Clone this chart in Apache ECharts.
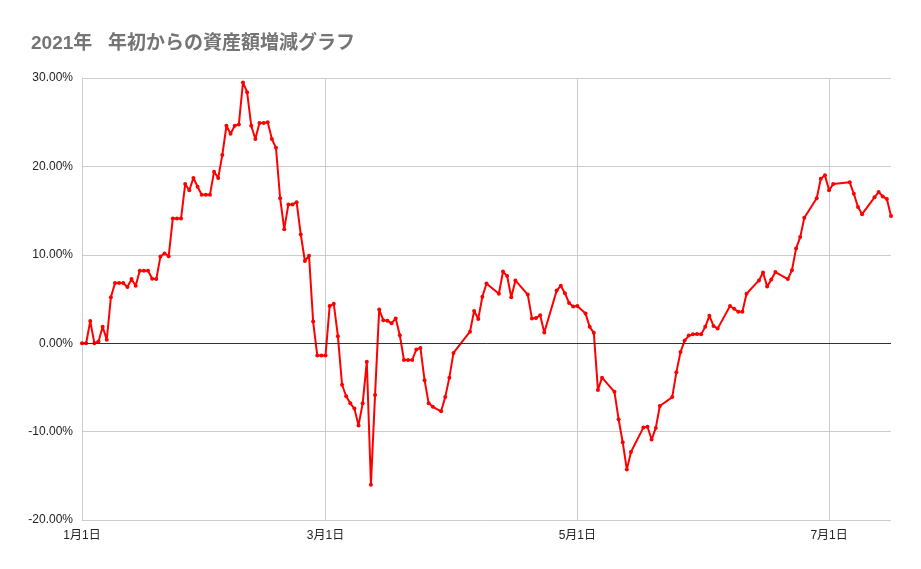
<!DOCTYPE html>
<html>
	<head>
		<meta charset="UTF-8">
		<title></title>
		<style>
			html, body { margin: 0; padding: 0; background: #fff; }
		</style>
	</head>
	<body>
		<div id="box" style="width: 921px;height: 569px;"></div>
		<script src="https://cdn.jsdelivr.net/npm/echarts@6/dist/echarts.min.js" type="text/javascript" charset="utf-8"></script>
		<script type="text/javascript">
			// 日付と増減率(%)
			const dates = [
				'2021-01-01','2021-01-02','2021-01-03','2021-01-04','2021-01-05','2021-01-06','2021-01-07','2021-01-08',
				'2021-01-09','2021-01-10','2021-01-11','2021-01-12','2021-01-13','2021-01-14','2021-01-15','2021-01-16',
				'2021-01-17','2021-01-18','2021-01-19','2021-01-20','2021-01-21','2021-01-22','2021-01-23','2021-01-24',
				'2021-01-25','2021-01-26','2021-01-27','2021-01-28','2021-01-29','2021-01-30','2021-01-31',
				'2021-02-01','2021-02-02','2021-02-03','2021-02-04','2021-02-05','2021-02-06','2021-02-07','2021-02-08',
				'2021-02-09','2021-02-10','2021-02-11','2021-02-12','2021-02-13','2021-02-14','2021-02-15','2021-02-16',
				'2021-02-17','2021-02-18','2021-02-19','2021-02-20','2021-02-21','2021-02-22','2021-02-23','2021-02-24',
				'2021-02-25','2021-02-26','2021-02-27','2021-02-28',
				'2021-03-01','2021-03-02','2021-03-03','2021-03-04','2021-03-05','2021-03-06','2021-03-07','2021-03-08',
				'2021-03-09','2021-03-10','2021-03-11','2021-03-12','2021-03-13','2021-03-14','2021-03-15','2021-03-16',
				'2021-03-17','2021-03-18','2021-03-19','2021-03-20','2021-03-21','2021-03-22','2021-03-23','2021-03-24',
				'2021-03-25','2021-03-26','2021-03-27','2021-03-29','2021-03-30','2021-03-31',
				'2021-04-01','2021-04-05','2021-04-06','2021-04-07','2021-04-08','2021-04-09','2021-04-12','2021-04-13',
				'2021-04-14','2021-04-15','2021-04-16','2021-04-19','2021-04-20','2021-04-21','2021-04-22','2021-04-23',
				'2021-04-26','2021-04-27','2021-04-28','2021-04-29','2021-04-30',
				'2021-05-01','2021-05-03','2021-05-04','2021-05-05','2021-05-06','2021-05-07','2021-05-10','2021-05-11',
				'2021-05-12','2021-05-13','2021-05-14','2021-05-17','2021-05-18','2021-05-19','2021-05-20','2021-05-21',
				'2021-05-24','2021-05-25','2021-05-26','2021-05-27','2021-05-28','2021-05-29','2021-05-30','2021-05-31',
				'2021-06-01','2021-06-02','2021-06-03','2021-06-04','2021-06-07','2021-06-08','2021-06-09','2021-06-10',
				'2021-06-11','2021-06-14','2021-06-15','2021-06-16','2021-06-17','2021-06-18','2021-06-21','2021-06-22',
				'2021-06-23','2021-06-24','2021-06-25','2021-06-28','2021-06-29','2021-06-30',
				'2021-07-01','2021-07-02','2021-07-06','2021-07-07','2021-07-08','2021-07-09','2021-07-12','2021-07-13',
				'2021-07-14','2021-07-15','2021-07-16'
			];
			const rates = [
				0, 0, 2.5, 0, 0.2, 1.85, 0.4, 5.2,
				6.8, 6.8, 6.8, 6.35, 7.25, 6.5, 8.2, 8.2,
				8.2, 7.3, 7.25, 9.8, 10.15, 9.85, 14.1, 14.1,
				14.1, 18.0, 17.3, 18.7, 17.7, 16.8, 16.8,
				16.8, 19.4, 18.7, 21.3, 24.6, 23.7, 24.6, 24.75,
				29.5, 28.4, 24.6, 23.1, 24.9, 24.9, 25.0, 23.1,
				22.1, 16.4, 12.9, 15.7, 15.7, 15.95, 12.3, 9.3,
				9.9, 2.45, -1.4, -1.4,
				-1.4, 4.2, 4.45, 0.8, -4.7, -6.0, -6.8, -7.4,
				-9.3, -6.8, -2.1, -16.0, -5.85, 3.8, 2.6, 2.55,
				2.25, 2.8, 0.9, -1.9, -1.9, -1.9, -0.7, -0.55,
				-4.2, -6.8, -7.2, -7.7, -6.1, -3.9,
				-1.1, 1.3, 3.65, 2.75, 5.25, 6.75, 5.6, 8.1,
				7.6, 5.2, 7.1, 5.5, 2.8, 2.85, 3.15, 1.2,
				5.95, 6.5, 5.65, 4.55, 4.15,
				4.2, 3.35, 1.85, 1.17, -5.3, -3.9, -5.5, -8.6,
				-11.2, -14.3, -12.3, -9.55, -9.45, -10.9, -9.6, -7.1,
				-6.1, -3.3, -1.0, 0.3, 0.87, 1.0, 1.05, 1.0,
				1.85, 3.1, 1.95, 1.65, 4.2, 3.9, 3.55, 3.55,
				5.6, 7.1, 8.0, 6.4, 7.2, 8.05, 7.25, 8.25,
				10.7, 12.0, 14.2, 16.4, 18.6, 19.0,
				17.3, 18.0, 18.2, 16.9, 15.4, 14.6, 16.5, 17.1,
				16.6, 16.3, 14.4
			];
			// 目盛り
			const xTickDates = ['2021-01-01', '2021-03-01', '2021-05-01', '2021-07-01'];
			const yTicks = { min: -20, max: 30, step: 10 };

			const fontJP = 'Arial, "Liberation Sans", "Noto Sans CJK JP", sans-serif';
			const toTime = d => +new Date(d + 'T00:00:00');
			const seriesData = dates.map((d, i) => [toTime(d), rates[i]]);
			const xTickValues = xTickDates.map(toTime);

			const myChart = echarts.init(document.getElementById('box'));
			const option = {
				animation: false,
				title: {
					text: '2021年   年初からの資産額増減グラフ',
					left: 26,
					top: 29,
					textStyle: {
						color: '#757575',
						fontSize: 19,
						fontWeight: 'bold',
						fontFamily: fontJP
					}
				},
				grid: {
					left: 82,
					right: 30,
					top: 78,
					bottom: 49
				},
				xAxis: {
					type: 'value',
					min: toTime(dates[0]),
					max: toTime(dates[dates.length - 1]),
					axisLine: { show: false },
					axisTick: { show: false, customValues: xTickValues },
					splitLine: { show: true, lineStyle: { color: '#cccccc' } },
					axisLabel: {
						color: '#222',
						fontSize: 12,
						fontFamily: fontJP,
						margin: 10,
						customValues: xTickValues,
						formatter: function (val) {
							const d = new Date(val);
							return (d.getMonth() + 1) + '月' + d.getDate() + '日';
						}
					}
				},
				yAxis: {
					type: 'value',
					min: yTicks.min,
					max: yTicks.max,
					interval: yTicks.step,
					axisLine: { show: true, lineStyle: { color: '#cccccc' } },
					axisTick: { show: false },
					splitLine: { lineStyle: { color: '#cccccc' } },
					axisLabel: {
						color: '#222',
						fontSize: 12,
						fontFamily: fontJP,
						margin: 9,
						formatter: v => v.toFixed(2) + '%'
					}
				},
				series: [{
					type: 'line',
					data: seriesData,
					symbol: 'circle',
					symbolSize: 4,
					showAllSymbol: true,
					itemStyle: { color: '#ff0000' },
					lineStyle: { color: '#ff0000', width: 2 },
					markLine: {
						silent: true,
						symbol: 'none',
						label: { show: false },
						lineStyle: { color: '#333', type: 'solid', width: 1 },
						data: [{ yAxis: 0 }]
					},
					z: 3
				}]
			};
			myChart.setOption(option);
		</script>
	</body>
</html>
